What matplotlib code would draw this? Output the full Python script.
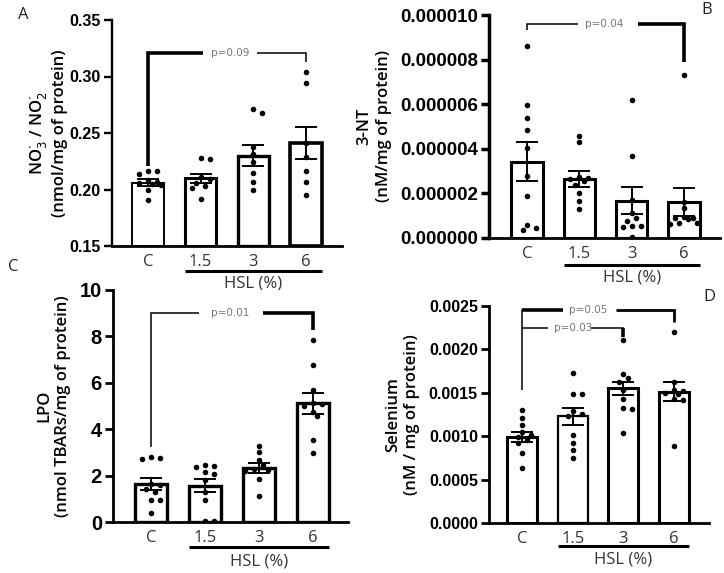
import numpy as np
import matplotlib
matplotlib.use("Agg")
import matplotlib.pyplot as plt
from matplotlib.transforms import blended_transform_factory

# ---------------- data ----------------
groups = ["C", "1.5", "3", "6"]

a_mean = [0.206, 0.210, 0.230, 0.241]
a_sem = [0.003, 0.004, 0.009, 0.014]
a_pts = [
    [0.216, 0.216, 0.214, 0.208, 0.207, 0.206, 0.205, 0.204, 0.200, 0.191],
    [0.228, 0.227, 0.211, 0.209, 0.206, 0.203, 0.201, 0.192],
    [0.271, 0.268, 0.238, 0.231, 0.224, 0.215, 0.207, 0.200],
    [0.304, 0.294, 0.241, 0.229, 0.216, 0.207, 0.195],
]

b_mean = [3.43e-6, 2.64e-6, 1.67e-6, 1.60e-6]
b_sem = [0.86e-6, 0.37e-6, 0.60e-6, 0.63e-6]
b_pts = [
    [8.61e-6, 5.96e-6, 5.37e-6, 4.85e-6, 4.03e-6, 2.76e-6, 1.87e-6, 0.57e-6, 0.45e-6, 0.34e-6],
    [4.58e-6, 4.30e-6, 2.72e-6, 2.69e-6, 2.66e-6, 2.54e-6, 2.39e-6, 2.04e-6, 1.64e-6, 1.31e-6],
    [6.19e-6, 3.66e-6, 1.72e-6, 1.12e-6, 0.90e-6, 0.75e-6, 0.54e-6, 0.52e-6, 0.50e-6, 0.04e-6],
    [7.31e-6, 1.61e-6, 1.34e-6, 0.92e-6, 0.90e-6, 0.88e-6, 0.85e-6, 0.68e-6, 0.66e-6, 0.64e-6],
]

c_mean = [1.63, 1.56, 2.32, 5.11]
c_sem = [0.27, 0.28, 0.22, 0.45]
c_pts = [
    [2.81, 2.75, 2.72, 1.65, 1.60, 1.44, 1.30, 0.95, 0.94, 0.39],
    [2.45, 2.40, 2.37, 2.16, 2.09, 1.83, 1.30, 0.94, 0.04, 0.04],
    [3.28, 3.02, 2.66, 2.45, 2.30, 2.23, 2.20, 1.87, 1.12],
    [7.84, 6.75, 5.71, 5.14, 5.08, 4.99, 4.75, 4.56, 3.55, 2.98],
]

d_mean = [0.00099, 0.00123, 0.00155, 0.00151]
d_sem = [0.00006, 0.00010, 0.00008, 0.00011]
d_pts = [
    [0.00130, 0.00121, 0.00113, 0.00105, 0.00101, 0.00099, 0.00096, 0.00092, 0.00081, 0.00063],
    [0.00173, 0.00149, 0.00149, 0.00129, 0.00126, 0.00123, 0.00101, 0.00092, 0.00084, 0.00075],
    [0.00211, 0.00172, 0.00167, 0.00163, 0.00153, 0.00143, 0.00132, 0.00131, 0.00104],
    [0.00220, 0.00163, 0.00153, 0.00152, 0.00150, 0.00149, 0.00143, 0.00142, 0.00089],
]

a_ticks = [0.15, 0.20, 0.25, 0.30, 0.35]
a_ticklabels = ["0.15", "0.20", "0.25", "0.30", "0.35"]
b_ticks = [0, 2e-6, 4e-6, 6e-6, 8e-6, 1e-5]
b_ticklabels = ["0.000000", "0.000002", "0.000004", "0.000006", "0.000008", "0.000010"]
c_ticks = [0, 2, 4, 6, 8, 10]
c_ticklabels = ["0", "2", "4", "6", "8", "10"]
d_ticks = [0, 0.0005, 0.0010, 0.0015, 0.0020, 0.0025]
d_ticklabels = ["0.0000", "0.0005", "0.0010", "0.0015", "0.0020", "0.0025"]

# ---------------- figure ----------------
W, H = 724, 573
fig = plt.figure(figsize=(W / 100, H / 100), dpi=100)
fig.patch.set_facecolor("white")

TICKFONT = "Liberation Sans"
LABFONT = "Open Sans"


def make_ax(px_left, px_right, px_top, px_bottom):
    return fig.add_axes([px_left / W, 1 - px_bottom / H,
                         (px_right - px_left) / W, (px_bottom - px_top) / H])


def swarm(ax, xc, vals, diam_px=6.0):
    placed = []
    trans = ax.transData
    order = np.argsort(vals)[::-1]
    res = [None] * len(vals)
    px_per_x = abs(trans.transform((1, 0))[0] - trans.transform((0, 0))[0])
    step = 4.5
    for i in order:
        v = vals[i]
        x0, yp = trans.transform((xc, v))
        best_k, best_d = 0, -1
        for k in [0, 1, -1, 2, -2, 3, -3]:
            xp = x0 + k * step
            d = min([((xp - qx) ** 2 + (yp - qy) ** 2) ** 0.5 for qx, qy in placed] or [99])
            if d >= diam_px:
                best_k = k
                break
            if d > best_d:
                best_d, best_k = d, k
        placed.append((x0 + best_k * step, yp))
        res[i] = xc + best_k * step / px_per_x
    return res


def panel(ax, means, sems, pts, ylim, ticks, ticklabels, xlim, tick_fs,
          ylabel, ylab_fs, bar_lw, hsl_off, ylabpad, spine_lw):
    x = np.arange(len(groups))
    ax.set_xlim(*xlim)
    ax.set_ylim(*ylim)
    for i in range(len(groups)):
        ax.bar(x[i], means[i] - ylim[0], bottom=ylim[0], width=0.6,
               facecolor="white", edgecolor="black", linewidth=bar_lw[i], zorder=2)
    for i in range(len(groups)):
        xs = swarm(ax, x[i], pts[i])
        ax.scatter(xs, pts[i], s=16, color="black", zorder=4, linewidths=0)
        ax.errorbar(x[i], means[i], yerr=sems[i], fmt="none", ecolor="black",
                    elinewidth=1.4, capsize=8, capthick=1.4, zorder=5)
    for s in ["top", "right"]:
        ax.spines[s].set_visible(False)
    ax.spines["left"].set_linewidth(spine_lw)
    ax.spines["bottom"].set_linewidth(2.0)
    ax.set_yticks(ticks)
    ax.set_yticklabels(ticklabels, fontfamily=TICKFONT, fontweight="bold", fontsize=tick_fs)
    ax.tick_params(axis="y", direction="out", length=6, width=spine_lw, pad=2)
    ax.set_xticks(x)
    ax.set_xticklabels(groups, fontfamily=LABFONT, fontsize=12, color="#333333")
    ax.tick_params(axis="x", length=0, pad=6)
    ax.set_ylabel(ylabel, fontfamily=LABFONT, fontweight="semibold", fontsize=ylab_fs,
                  linespacing=1.25, labelpad=ylabpad)
    tr = blended_transform_factory(ax.transData, ax.transAxes)
    hgt = ax.get_position().height * H
    y_line = -hsl_off[0] / hgt
    y_text = -hsl_off[1] / hgt
    ax.plot([0.7, 3.3], [y_line, y_line], transform=tr, color="black", lw=2.2,
            clip_on=False, solid_capstyle="butt")
    ax.text(2.0, y_text, "HSL (%)", transform=tr, ha="center", va="center",
            fontfamily=LABFONT, fontsize=12, color="#333333")
    ax.set_facecolor("white")


def seg(ax, xs, ys, lw):
    ax.plot(xs, ys, color="black", lw=lw, clip_on=False, zorder=6,
            solid_capstyle="butt", solid_joinstyle="miter")


def ptext(ax, x, y, s):
    ax.text(x, y, s, ha="center", va="center", fontsize=7.5, color="#777777",
            fontfamily="DejaVu Sans", zorder=7)


# ---- Panel A ----
axA = make_ax(112, 342, 20, 246)
panel(axA, a_mean, a_sem, a_pts, (0.15, 0.35), a_ticks, a_ticklabels, (-0.68, 3.68), 11.5,
      "NO$_3^{\\cdot}$ / NO$_2^{\\cdot}$\n(nmol/mg of protein)", 12, [1.4, 2.2, 2.4, 2.6],
      (25, 37), 1, 1.7)
yb = 0.3206
seg(axA, [0, 0, 1.05], [0.2206, yb, yb], 2.6)
seg(axA, [2.07, 3, 3], [yb, yb, 0.313], 1.1)
ptext(axA, 1.56, yb, "p=0.09")

# ---- Panel B ----
axB = make_ax(489, 720, 15, 238)
panel(axB, b_mean, b_sem, b_pts, (0, 1e-5), b_ticks, b_ticklabels, (-0.73, 3.69), 13.5,
      "3-NT\n(nM/mg of protein)", 12, [2.2, 2.2, 2.2, 2.2], (27, 39), 6, 2.5)
yb = 9.6e-6
seg(axB, [0, 0, 0.98], [9.33e-6, yb, yb], 1.1)
seg(axB, [2.12, 3, 3], [yb, yb, 7.9e-6], 2.6)
ptext(axB, 1.48, yb, "p=0.04")

# ---- Panel C ----
axC = make_ax(113, 348, 290, 522)
panel(axC, c_mean, c_sem, c_pts, (0, 10), c_ticks, c_ticklabels, (-0.70, 3.65), 14.5,
      "LPO\n(nmol TBARs/mg of protein)", 12, [2.4, 2.4, 2.4, 2.4], (25, 40), 6, 2.0)
yb = 9.0
seg(axC, [0, 0, 0.9], [3.24, yb, yb], 1.1)
seg(axC, [2.07, 3, 3], [yb, yb, 8.27], 2.6)
ptext(axC, 1.46, yb, "p=0.01")

# ---- Panel D ----
axD = make_ax(489, 709, 306, 523)
panel(axD, d_mean, d_sem, d_pts, (0, 0.0025), d_ticks, d_ticklabels, (-0.66, 3.70), 11.5,
      "Selenium\n(nM / mg of protein)", 12, [2.2, 1.6, 2.2, 2.2], (23, 37), 6, 2.0)
yb1 = 0.00245
seg(axD, [0, 0, 0.8], [0.00153, yb1, yb1], 1.1)
seg(axD, [0, 0.8], [yb1, yb1], 2.6)
seg(axD, [1.86, 3, 3], [yb1, yb1, 0.00232], 2.0)
ptext(axD, 1.3, yb1, "p=0.05")
yb2 = 0.00225
seg(axD, [0, 0.5], [yb2, yb2], 1.1)
seg(axD, [1.36, 2, 2], [yb2, yb2, 0.00214], 1.1)
seg(axD, [2, 2], [yb2, 0.00214], 2.6)
ptext(axD, 1.0, yb2, "p=0.03")

# panel letters
for s, (px, py) in {"A": (23, 15), "B": (707, 10), "C": (13, 267), "D": (709, 297)}.items():
    fig.text(px / W, 1 - py / H, s, ha="center", va="center", fontsize=12,
             fontfamily=LABFONT, color="#222222")

fig.savefig("out.png", dpi=100, facecolor="white")
